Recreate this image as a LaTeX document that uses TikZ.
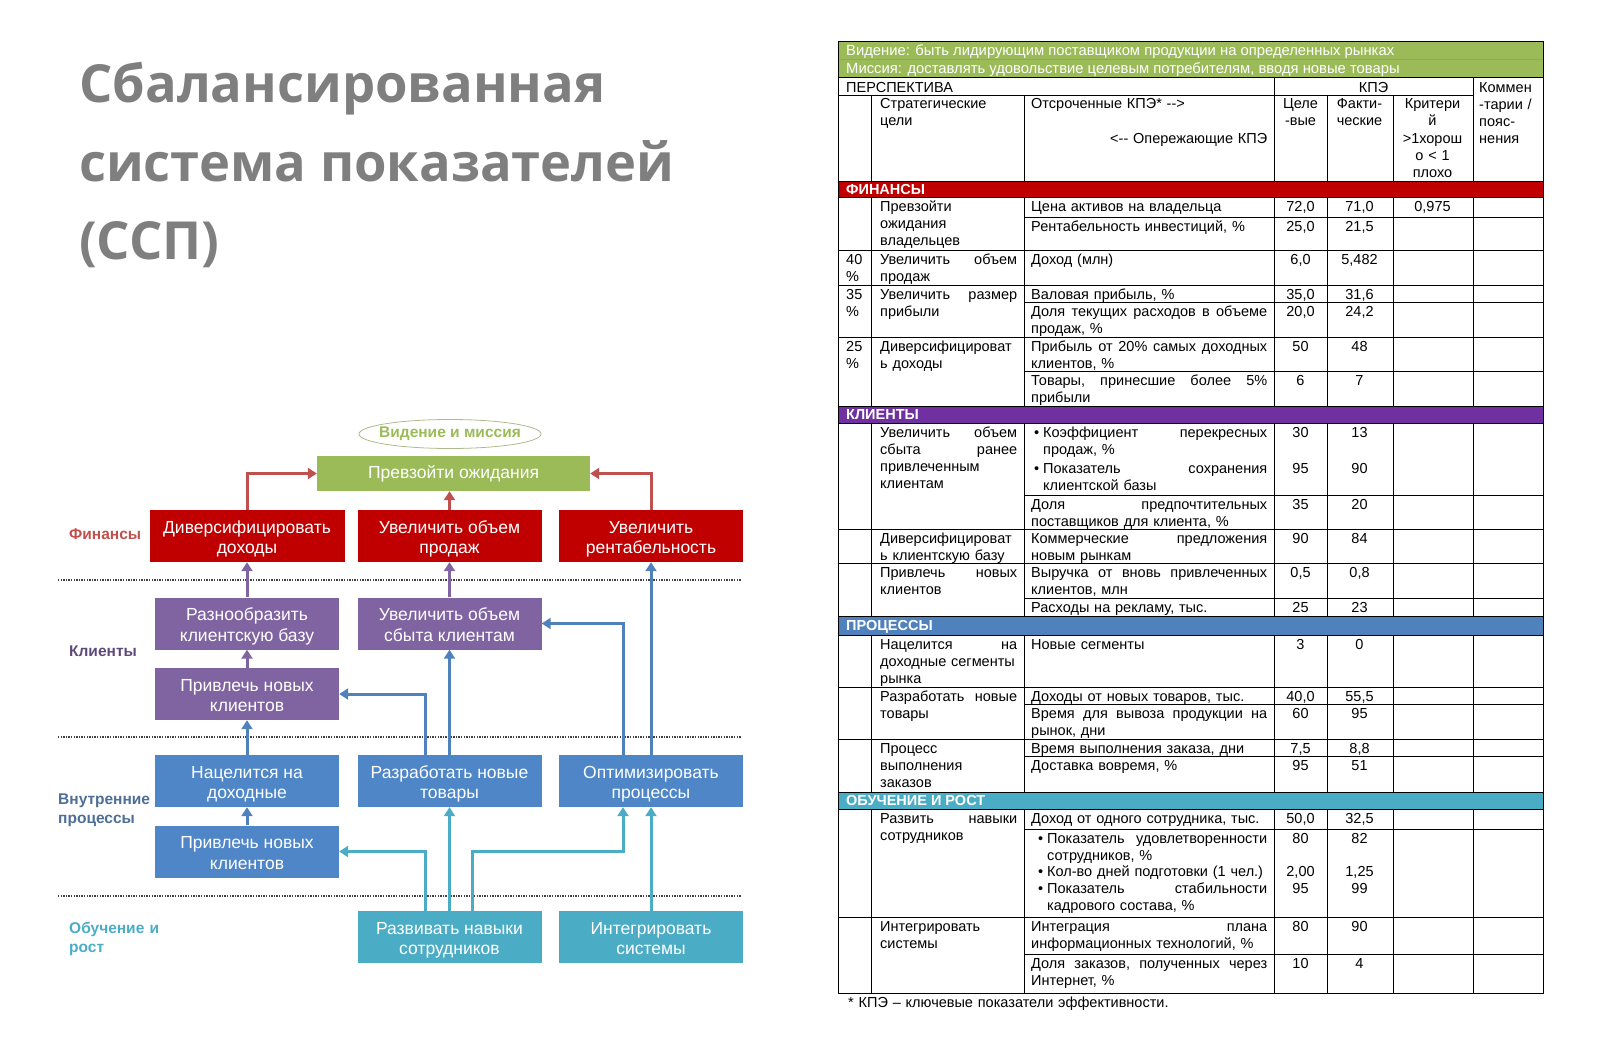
\documentclass[tikz,border=0pt]{standalone}
\usepackage{fontspec}
\setmainfont{Liberation Sans}
\newfontfamily\titlefont{Open Sans}
\usetikzlibrary{arrows.meta,positioning,shapes.geometric}

\definecolor{boxred}{HTML}{C00000}
\definecolor{boxgreen}{HTML}{9BBB59}
\definecolor{boxpurple}{HTML}{8064A2}
\definecolor{boxblue}{HTML}{4F86C8}
\definecolor{boxteal}{HTML}{4BACC6}
\definecolor{arrred}{HTML}{C0504D}
\definecolor{arrblue}{HTML}{4F81BD}
\definecolor{lanepurple}{HTML}{5F497A}
\definecolor{laneblue}{HTML}{4E6E95}
\definecolor{titlegray}{HTML}{7F7F7F}
\definecolor{bandpurple}{HTML}{7030A0}

\newcommand\cellfont{\fontsize{14.5}{17.3}\selectfont}
\newcommand\boxfont{\fontsize{17.5}{20.5}\selectfont}
\newcommand\lanefont{\fontsize{15.5}{19}\selectfont\bfseries}
% two-line box text with fixed top height and bottom depth, so every box sits alike
\newcommand\twolines[2]{\rule{0pt}{19pt}#1\\#2\rule[-4pt]{0pt}{0pt}}
% justified lines (\hfill between the words): goals column and KPI column
\newcommand\jA[1]{\leavevmode\hbox to 137pt{#1}}
\newcommand\jB[1]{\leavevmode\hbox to 236pt{#1}}
\newcommand\bul[3]{\makebox[9pt][l]{\textbullet}\hbox to #1{#2}\\\hspace*{9pt}#3}

\begin{document}
\begin{tikzpicture}[x=1pt, y=-1pt,
  goalbox/.style={minimum width=273pt, minimum height=35pt, inner sep=0pt, align=center, text=white, font=\boxfont},
  box/.style={minimum width=184pt, minimum height=52pt, inner sep=0pt, align=center, text=white, font=\boxfont},
  lane/.style={anchor=base west, inner sep=0pt, text width=110pt, align=left, font=\lanefont},
  arr/.style={line width=3pt, -{Triangle[length=9pt, width=11pt]}},
  sep/.style={line width=1.2pt, black!75, dash pattern=on 1.3pt off 1.3pt},
  rule/.style={line width=0.9pt, black},
  cell/.style={anchor=base west, inner sep=0pt, align=left, font=\cellfont, text width=#1},
  cell/.default=150pt,
  ccell/.style={anchor=base, inner sep=0pt, align=center, font=\cellfont, text width=#1},
  ccell/.default=60pt,
  val/.style={anchor=base, inner sep=0pt, font=\cellfont},
  strip/.style={anchor=base west, inner sep=0pt, text=white, font=\fontsize{14.8}{17}\selectfont},
  band/.style={anchor=base west, inner sep=0pt, text=white, font=\cellfont\bfseries},
]
\useasboundingbox (0,0) rectangle (1602,1044);

% ---------------- title
\begin{scope}[every node/.style={anchor=base west, inner sep=0pt, text=titlegray,
    font=\titlefont\bfseries\fontsize{52.5}{60}\selectfont}]
  \node (title1) at (79,102) {Сбалансированная};
  \node (title2) at (79,181) {система показателей};
  \node (title3) at (79,259) {(ССП)};
\end{scope}

% ---------------- strategy map
\node[ellipse, draw=black!25!boxgreen!60, line width=0.8pt, minimum width=182pt, minimum height=29pt,
  inner xsep=-14pt, inner ysep=-2pt,
  text=boxgreen, font=\fontsize{15.5}{18}\selectfont\bfseries] (vision) at (450,434) {Видение и миссия};
\node[goalbox, fill=boxgreen] (goal) at (453.5,473.5) {Превзойти ожидания};

\node[box, fill=boxred, minimum width=195pt] (fdiv) at (247,536) {\twolines{Диверсифицировать}{доходы}};
\node[box, fill=boxred] (fsales) at (449.5,536) {\twolines{Увеличить объем}{продаж}};
\node[box, fill=boxred] (fprof) at (651,536) {\twolines{Увеличить}{рентабельность}};

\node[box, fill=boxpurple] (cdiv) at (247,623.5) {\twolines{Разнообразить}{клиентскую базу}};
\node[box, fill=boxpurple] (csales) at (449.5,623.5) {\twolines{Увеличить объем}{сбыта клиентам}};
\node[box, fill=boxpurple] (cnew) at (247,694) {\twolines{Привлечь новых}{клиентов}};

\node[box, fill=boxblue] (ptarget) at (247,781) {\twolines{Нацелится на}{доходные}};
\node[box, fill=boxblue] (pprod) at (449.5,781) {\twolines{Разработать новые}{товары}};
\node[box, fill=boxblue] (popt) at (651,781) {\twolines{Оптимизировать}{процессы}};
\node[box, fill=boxblue] (pnew) at (247,851.5) {\twolines{Привлечь новых}{клиентов}};

\node[box, fill=boxteal] (lskill) at (449.5,937) {\twolines{Развивать навыки}{сотрудников}};
\node[box, fill=boxteal] (lsys) at (651,937) {\twolines{Интегрировать}{системы}};

\node[lane, text=arrred] (lfin) at (69,539.5) {Финансы};
\node[lane, text=lanepurple] (lcli) at (69,656.5) {Клиенты};
\node[lane, text=laneblue] (lproc) at (58,804.5) {Внутренние\\процессы};
\node[lane, text=boxteal] (llearn) at (69,933.5) {Обучение и\\рост};

\foreach \y in {580,737,896}
  \draw[sep] (58,\y) -- (741,\y);

% finance -> goal
\draw[arr, arrred] (fdiv.north) |- (goal.west);
\draw[arr, arrred] (fsales.north) -- (fsales.north |- goal.south);
\draw[arr, arrred] (fprof.north) |- (goal.east);
% clients -> finance
\draw[arr, boxpurple] (cdiv.north) -- (fdiv.south);
\draw[arr, boxpurple] (csales.north) -- (fsales.south);
\draw[arr, boxpurple] (cnew.north) -- (cdiv.south);
% processes -> clients
\draw[arr, arrblue] (ptarget.north) -- (cnew.south);
\draw[arr, arrblue] (pnew.north) -- (ptarget.south);
\draw[arr, arrblue] (pprod.north) -- (csales.south);
\draw[arr, arrblue] ([xshift=-24pt]pprod.north) |- (cnew.east);
\draw[arr, arrblue] (popt.north) -- (fprof.south);
\draw[arr, arrblue] ([xshift=-28pt]popt.north) |- (csales.east);
% learning -> processes
\coordinate (optin) at ([xshift=-28pt]popt.south);
\draw[arr, boxteal] ([xshift=-24pt]lskill.north) |- (pnew.east);
\draw[arr, boxteal] (lskill.north) -- (pprod.south);
\draw[arr, boxteal] ([xshift=23pt]lskill.north) |- (optin |- pnew.east) -- (optin);
\draw[arr, boxteal] (lsys.north) -- (popt.south);

% ---------------- scorecard table
\fill[boxgreen] (838,41) rectangle (1543,77);
\fill[boxred] (838,181) rectangle (1543,197);
\fill[bandpurple] (838,406) rectangle (1543,423);
\fill[arrblue] (838,616) rectangle (1543,635);
\fill[boxteal] (838,792) rectangle (1543,809);

\draw[black!40, line width=0.8pt] (838,59) -- (1543,59);
\foreach \y in {77,181,197,250,285,337,406,423,529,563,616,635,687,739,792,809,917}
  \draw[rule] (838,\y) -- (1543,\y);
\draw[rule] (838,95) -- (1473,95);
\foreach \y in {217,302,371,495,598,704,756,829,954}
  \draw[rule] (1024,\y) -- (1543,\y);
\foreach \x in {1274,1473}
  \draw[rule] (\x,77) -- (\x,181);
\foreach \x in {871,1024,1327,1393}
  \draw[rule] (\x,95) -- (\x,181);
\foreach \a/\b in {197/406, 423/616, 635/792, 809/993}
  \foreach \x in {871,1024,1274,1327,1393,1473}
    \draw[rule] (\x,\a) -- (\x,\b);
\draw[rule] (838,41) rectangle (1543,993);

% header
\node[strip] (vis) at (846,55) {Видение: быть лидирующим поставщиком продукции на определенных рынках};
\node[strip] (mis) at (846,73) {Миссия: доставлять удовольствие целевым потребителям, вводя новые товары};
\node[cell] (persp) at (846,92) {ПЕРСПЕКТИВА};
\node[val] (kpi) at (1373.5,92) {КПЭ};
\node[cell=70pt] (comm) at (1479,92) {Коммен\\-тарии /\\пояс-\\нения};
\node[cell] (hgoal) at (880,108.5) {Стратегические\\цели};
\node[cell=236pt] (hlag) at (1031,108.5) {Отсроченные КПЭ* -{}->\\[17.3pt]\hfill<-{}- Опережающие КПЭ};
\node[ccell=50pt] (htgt) at (1300.5,108.5) {Целе\\-вые};
\node[ccell] (hact) at (1359.5,108.5) {Факти-\\ческие};
\node[ccell] (hcrit) at (1432.5,108.5) {Критери\\й\\>1хорош\\о < 1\\плохо};

% section bands
\node[band] (bfin) at (846,194) {ФИНАНСЫ};
\node[band] (bcli) at (846,419) {КЛИЕНТЫ};
\node[band] (bproc) at (846,630) {ПРОЦЕССЫ};
\node[band] (blearn) at (846,805) {ОБУЧЕНИЕ И РОСТ};

% weights
\foreach \y/\w [count=\i] in {264/40, 299/35, 351/25}
  \node[cell=30pt] (wt\i) at (846,\y) {\w\\\%};

% strategic goals
\foreach \y/\t [count=\i] in {
    211/{Превзойти\\ожидания\\владельцев},
    264/{\jA{Увеличить\hfill объем}\\продаж},
    299/{\jA{Увеличить\hfill размер}\\прибыли},
    351/{Диверсифицироват\\ь доходы},
    437/{\jA{Увеличить\hfill объем}\\\jA{сбыта\hfill ранее}\\привлеченным\\клиентам},
    543/{Диверсифицироват\\ь клиентскую базу},
    577/{\jA{Привлечь\hfill новых}\\клиентов},
    649/{\jA{Нацелится\hfill на}\\доходные сегменты\\рынка},
    701/{\jA{Разработать\hfill новые}\\товары},
    753/{Процесс\\выполнения\\заказов},
    823/{\jA{Развить\hfill навыки}\\сотрудников},
    931/{Интегрировать\\системы}}
  \node[cell] (goal\i) at (880,\y) {\t};

% indicators
\foreach \y/\t [count=\i] in {
    211/{Цена активов на владельца},
    231/{Рентабельность инвестиций, \%},
    264/{Доход (млн)},
    299/{Валовая прибыль, \%},
    316/{\jB{Доля\hfill текущих\hfill расходов\hfill в\hfill объеме}\\продаж, \%},
    351/{\jB{Прибыль\hfill от\hfill 20\%\hfill самых\hfill доходных}\\клиентов, \%},
    385/{\jB{Товары,\hfill принесшие\hfill более\hfill 5\%}\\прибыли},
    509/{\jB{Доля\hfill предпочтительных}\\поставщиков для клиента, \%},
    543/{\jB{Коммерческие\hfill предложения}\\новым рынкам},
    577/{\jB{Выручка\hfill от\hfill вновь\hfill привлеченных}\\клиентов, млн},
    612/{Расходы на рекламу, тыс.},
    649/{Новые сегменты},
    701/{Доходы от новых товаров, тыс.},
    718/{\jB{Время\hfill для\hfill вывоза\hfill продукции\hfill на}\\рынок, дни},
    753/{Время выполнения заказа, дни},
    770/{Доставка вовремя, \%},
    823/{Доход от одного сотрудника, тыс.},
    931/{\jB{Интеграция\hfill плана}\\информационных технологий, \%},
    968/{\jB{Доля\hfill заказов,\hfill полученных\hfill через}\\Интернет, \%}}
  \node[cell=240pt] (kpi\i) at (1031,\y) {\t};

\node[cell=240pt] (bul1) at (1034,437) {\bul{224pt}{Коэффициент\hfill перекресных}{продаж, \%}};
\node[cell=240pt] (bul2) at (1034,473) {\bul{224pt}{Показатель\hfill сохранения}{клиентской базы}};
\node[cell=240pt] (bul3) at (1038,843) {\bul{220pt}{Показатель\hfill удовлетворенности}{сотрудников, \%}};
\node[cell=240pt] (bul4) at (1038,876) {\makebox[9pt][l]{\textbullet}Кол-во дней подготовки (1 чел.)};
\node[cell=240pt] (bul5) at (1038,893) {\bul{220pt}{Показатель\hfill стабильности}{кадрового состава, \%}};

% target / actual values
\foreach \y/\a/\b [count=\i] in {
    211/{72,0}/{71,0}, 231/{25,0}/{21,5}, 264/{6,0}/{5,482}, 299/{35,0}/{31,6},
    316/{20,0}/{24,2}, 351/50/48, 385/6/7,
    437/30/13, 473/95/90, 509/35/20, 543/90/84, 577/{0,5}/{0,8}, 612/25/23,
    649/3/0, 701/{40,0}/{55,5}, 718/60/95, 753/{7,5}/{8,8}, 770/95/51,
    823/{50,0}/{32,5}, 843/80/82, 876/{2,00}/{1,25}, 893/95/99, 931/80/90, 968/10/4}{
  \node[val] (tgt\i) at (1300.5,\y) {\a};
  \node[val] (act\i) at (1359.5,\y) {\b};
}
\node[val] (crit1) at (1432.5,211) {0,975};

\node[cell=400pt] (note) at (848,1007) {* КПЭ – ключевые показатели эффективности.};

\end{tikzpicture}
\end{document}
